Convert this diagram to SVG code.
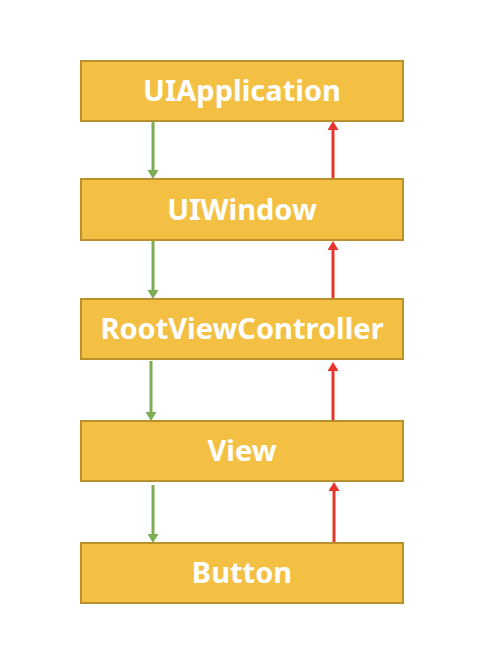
<svg xmlns="http://www.w3.org/2000/svg" width="496" height="670" viewBox="0 0 496 670">
<style>
.box{fill:#F4C043;stroke:#B8902C;stroke-width:2}
.lbl{font-family:"Noto Sans","Open Sans","DejaVu Sans",sans-serif;font-weight:bold;font-size:29px;fill:#FFFFFF;text-anchor:middle}
.down{stroke:#7DAE55;stroke-width:3;fill:none}
.up{stroke:#E8342A;stroke-width:3;fill:none}
</style>
<rect width="496" height="670" fill="#FFFFFF"/>
<g id="connectors">
<line class="down" x1="153" y1="122" x2="153" y2="170"/><path d="M147.5,170 L158.5,170 L153,179 z" fill="#7DAE55"/>
<line class="down" x1="153" y1="241" x2="153" y2="290"/><path d="M147.5,290 L158.5,290 L153,299 z" fill="#7DAE55"/>
<line class="down" x1="151" y1="361" x2="151" y2="412"/><path d="M145.5,412 L156.5,412 L151,421 z" fill="#7DAE55"/>
<line class="down" x1="153" y1="485" x2="153" y2="534"/><path d="M147.5,534 L158.5,534 L153,543 z" fill="#7DAE55"/>
<line class="up" x1="333" y1="179" x2="333" y2="130"/><path d="M327.5,130 L338.5,130 L333,121 z" fill="#E8342A"/>
<line class="up" x1="333" y1="299" x2="333" y2="250"/><path d="M327.5,250 L338.5,250 L333,241 z" fill="#E8342A"/>
<line class="up" x1="333" y1="421" x2="333" y2="371"/><path d="M327.5,371 L338.5,371 L333,362 z" fill="#E8342A"/>
<line class="up" x1="334" y1="543" x2="334" y2="491"/><path d="M328.5,491 L339.5,491 L334,482 z" fill="#E8342A"/>
</g>
<g id="uiapplication"><rect class="box" x="81" y="61" width="322" height="60"/><text class="lbl" x="242" y="101">UIApplication</text></g>
<g id="uiwindow"><rect class="box" x="81" y="179" width="322" height="61"/><text class="lbl" x="242" y="220">UIWindow</text></g>
<g id="rootviewcontroller"><rect class="box" x="81" y="299" width="322" height="60"/><text class="lbl" x="242" y="339">RootViewController</text></g>
<g id="view"><rect class="box" x="81" y="421" width="322" height="60"/><text class="lbl" x="242" y="461">View</text></g>
<g id="button"><rect class="box" x="81" y="543" width="322" height="60"/><text class="lbl" x="242" y="583">Button</text></g>
</svg>
